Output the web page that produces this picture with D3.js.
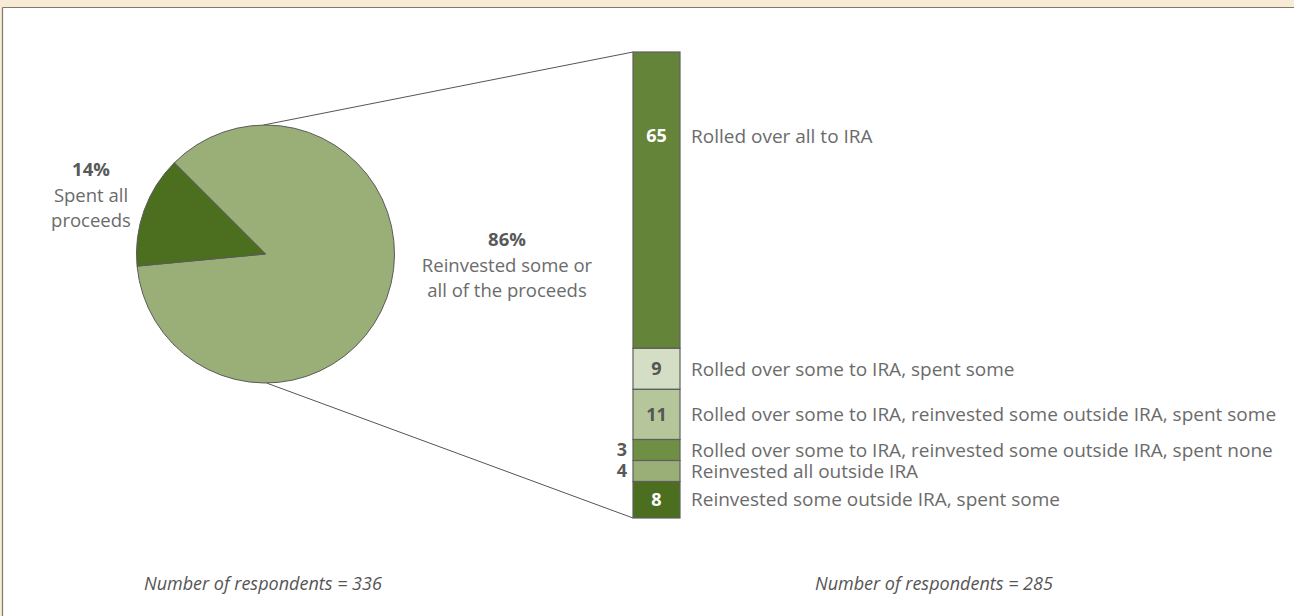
<!DOCTYPE html>
<html>
<head>
<meta charset="utf-8">
<script src="https://cdn.jsdelivr.net/npm/d3@7"></script>
<style>
  html, body { margin: 0; padding: 0; background: #ffffff; overflow: hidden; }
  svg { display: block; }
</style>
</head>
<body>
<svg id="chart" width="1294" height="616"></svg>
<script>
// Share of respondents who spent vs. reinvested their proceeds (pie)
const pieCategories = ["Reinvested some or all of the proceeds", "Spent all proceeds"];
const piePercent = [86, 14];
const pieColors = ["#9aae78", "#4b6e1f"];

// Breakdown of those who reinvested (stacked bar, percent)
const barCategories = [
  "Rolled over all to IRA",
  "Rolled over some to IRA, spent some",
  "Rolled over some to IRA, reinvested some outside IRA, spent some",
  "Rolled over some to IRA, reinvested some outside IRA, spent none",
  "Reinvested all outside IRA",
  "Reinvested some outside IRA, spent some"
];
const barValues = [65, 9, 11, 3, 4, 8];
const barColors = ["#64843a", "#d3dec4", "#b4c69a", "#6f8f45", "#9aae78", "#4b6e1f"];
const barValueColors = ["#ffffff", "#555555", "#555555", "#555555", "#555555", "#ffffff"];

const respondentNotes = ["Number of respondents = 336", "Number of respondents = 285"];

const W = 1294, H = 616;
const svg = d3.select("#chart");
const textGray = "#6b6b6b";
const boldGray = "#595959";
const font = "'Open Sans', 'Noto Sans', sans-serif";

// Frame: beige band with a grey rule along the top and left edges
svg.append("rect").attr("width", W).attr("height", H).attr("fill", "#f7ebd5");
svg.append("rect").attr("x", 3).attr("y", 8).attr("width", W - 3).attr("height", H - 8).attr("fill", "#ffffff");
svg.append("line").attr("x1", 2.5).attr("x2", W).attr("y1", 7.5).attr("y2", 7.5)
  .attr("stroke", "#7a7a72").attr("stroke-width", 1.2);
svg.append("line").attr("x1", 2.5).attr("x2", 2.5).attr("y1", 7.5).attr("y2", H)
  .attr("stroke", "#7a7a72").attr("stroke-width", 1.2);

// ---- Pie ----
const cx = 265.5, cy = 254, r = 129;
const pie = d3.pie().sort(null)
  .startAngle(-Math.PI / 4)
  .endAngle(-Math.PI / 4 + 2 * Math.PI);
const arcs = pie(piePercent);
const arc = d3.arc().innerRadius(0).outerRadius(r);

// ---- Stacked bar geometry ----
const barX = 633, barW = 47, barTop = 52, barBottom = 518;
const minSeg = 21;
const unitGuess = 4.56;
// Linear scale for segment heights; very small shares get a minimum height
const nSmall = barValues.filter(v => v * unitGuess < minSeg).length;
const bigSum = d3.sum(barValues.filter(v => v * unitGuess >= minSeg));
const hScale = d3.scaleLinear()
  .domain([0, bigSum])
  .range([0, (barBottom - barTop) - nSmall * minSeg]);
const heights = barValues.map(v => Math.max(minSeg, hScale(v)));
let acc = barTop;
const segs = barValues.map((v, i) => {
  const s = { value: v, y0: acc, h: heights[i], i };
  acc += heights[i];
  return s;
});

// Connector lines from the pie to the bar
const gLines = svg.append("g").attr("stroke", "#555555").attr("stroke-width", 1).attr("fill", "none");
gLines.append("line").attr("x1", cx - 2).attr("y1", cy - r).attr("x2", barX).attr("y2", barTop);
gLines.append("line").attr("x1", cx + 1).attr("y1", cy + r).attr("x2", barX).attr("y2", barBottom);

const gPie = svg.append("g").attr("transform", `translate(${cx},${cy})`);
gPie.selectAll("path").data(arcs).join("path")
  .attr("d", arc)
  .attr("fill", (d, i) => pieColors[i])
  .attr("stroke", "#5a5a5a")
  .attr("stroke-width", 1);

// Pie labels
function blockLabel(x, y, lines) {
  const t = svg.append("text").attr("x", x).attr("y", y)
    .attr("text-anchor", "middle").attr("font-family", font).attr("font-size", 18.5)
    .attr("fill", textGray);
  lines.forEach((ln, k) => {
    t.append("tspan").attr("x", x).attr("dy", k === 0 ? 0 : 25.5)
      .attr("font-weight", k === 0 ? 700 : 400)
      .attr("fill", k === 0 ? boldGray : textGray)
      .text(ln);
  });
}
blockLabel(91, 176, [piePercent[1] + "%", "Spent all", "proceeds"]);
blockLabel(507, 246, [piePercent[0] + "%", "Reinvested some or", "all of the proceeds"]);

// Bar segments
const gBar = svg.append("g");
gBar.selectAll("rect").data(segs).join("rect")
  .attr("x", barX).attr("y", d => d.y0)
  .attr("width", barW).attr("height", d => d.h)
  .attr("fill", d => barColors[d.i])
  .attr("stroke", "#5f5f5f").attr("stroke-width", 1.2);

// Vertical anchor of each segment's labels
const labelY = d => d.y0 + Math.min(d.h / 2, 84);

// Values: inside the segment, or to its left when the segment is too thin
gBar.selectAll("text.val").data(segs).join("text")
  .attr("class", "val")
  .attr("x", d => d.h > 30 ? barX + barW / 2 : barX - 6)
  .attr("y", d => labelY(d))
  .attr("dy", "0.35em")
  .attr("text-anchor", d => d.h > 30 ? "middle" : "end")
  .attr("font-family", font).attr("font-size", 18).attr("font-weight", 700)
  .attr("fill", d => d.h > 30 ? barValueColors[d.i] : boldGray)
  .text(d => d.value);

gBar.selectAll("text.cat").data(segs).join("text")
  .attr("class", "cat")
  .attr("x", barX + barW + 11)
  .attr("y", d => labelY(d))
  .attr("dy", "0.35em")
  .attr("font-family", font).attr("font-size", 19)
  .attr("fill", textGray)
  .text(d => barCategories[d.i]);

// Respondent counts
const noteX = [144, 815];
svg.selectAll("text.note").data(respondentNotes).join("text")
  .attr("class", "note")
  .attr("x", (d, i) => noteX[i]).attr("y", 590)
  .attr("font-family", font).attr("font-size", 18).attr("font-style", "italic")
  .attr("fill", "#555555")
  .text(d => d);
</script>
</body>
</html>
